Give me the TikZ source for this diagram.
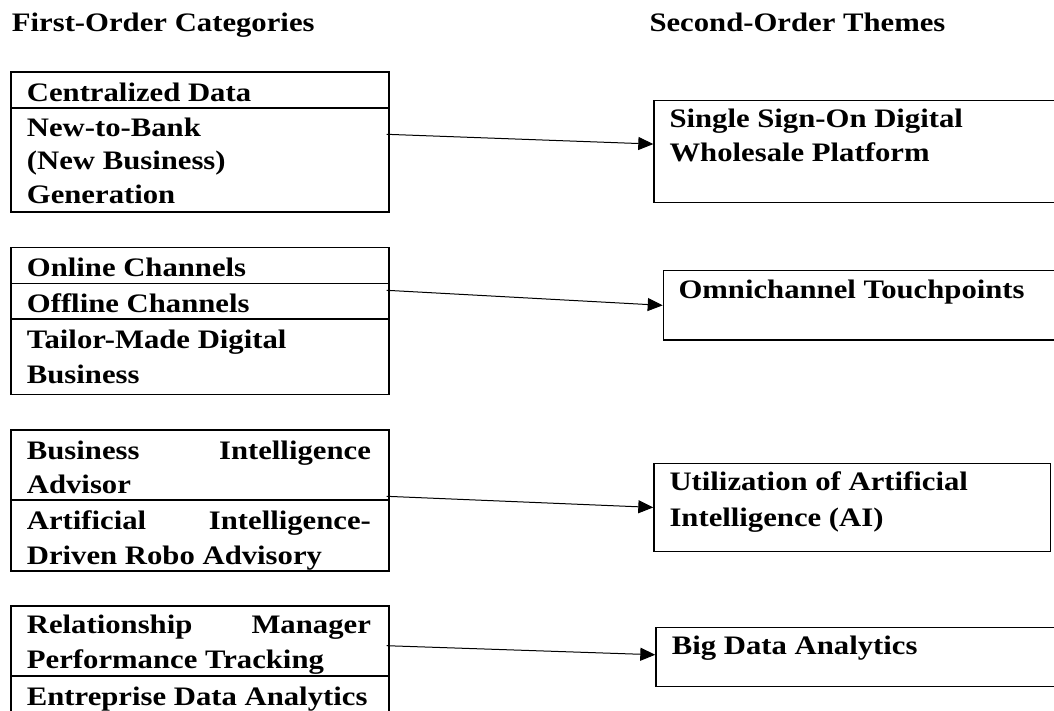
\documentclass[tikz,border=0pt]{standalone}
\usepackage{fontspec}
\setmainfont{Liberation Serif}[FakeStretch=1.15]
\usetikzlibrary{arrows.meta}
\newcommand{\bodyfnt}{\fontsize{26.7}{34.3}\selectfont\bfseries}
\begin{document}
\begin{tikzpicture}[x=1pt,y=-1pt,
  cell/.style={draw, line width=1.4pt, anchor=north west, inner sep=0pt, outer sep=0pt, minimum width=378pt},
  theme/.style={draw, line width=1.4pt, anchor=north west, inner sep=0pt},
  txt/.style={anchor=base west, inner sep=0pt, align=left, font=\bodyfnt},
  arr/.style={line width=1pt, -{Triangle[length=15pt,width=13pt]}}]
\useasboundingbox (0,0) rectangle (1054,710);
\clip (0,0) rectangle (1054,710);
% headings
\node[txt] (h1) at (11.7,31.7) {First-Order Categories};
\node[txt] (h2) at (649.3,31.7) {Second-Order Themes};
% left boxes
\node[cell, minimum height=36pt] (c1a) at (11,72) {};
\node[cell, minimum height=104pt] (c1b) at (11,108) {};
\node[cell, minimum height=36pt] (c2a) at (11,247.7) {};
\node[cell, minimum height=35.3pt] (c2b) at (11,283.7) {};
\node[cell, minimum height=75.7pt] (c2c) at (11,319) {};
\node[cell, minimum height=70pt] (c3a) at (11,430) {};
\node[cell, minimum height=71pt] (c3b) at (11,500) {};
\node[cell, minimum height=70pt] (c4a) at (11,606) {};
\node[cell, minimum height=45pt] (c4b) at (11,676) {};
% left texts (base anchor = baseline of the last line)
\node[txt] (t1a) at (26.7,101) {Centralized Data};
\node[txt, font=\fontsize{26.7}{33.65}\selectfont\bfseries] (t1b) at (26.7,203.3) {New-to-Bank\\(New Business)\\Generation};
\node[txt] (t2a) at (26.7,276.7) {Online Channels};
\node[txt] (t2b) at (26.7,312.3) {Offline Channels};
\node[txt, font=\fontsize{26.7}{35}\selectfont\bfseries] (t2c) at (26.7,383.3) {Tailor-Made Digital\\Business};
\node[txt] (t3a) at (26.7,493.3) {\makebox[344pt][s]{Business Intelligence}\\Advisor};
\node[txt, font=\fontsize{26.7}{35}\selectfont\bfseries] (t3b) at (26.7,564) {\makebox[344pt][s]{Artificial Intelligence-}\\Driven Robo Advisory};
\node[txt, font=\fontsize{26.7}{35}\selectfont\bfseries] (t4a) at (26.7,668.3) {\makebox[344pt][s]{Relationship Manager}\\Performance Tracking};
\node[txt] (t4b) at (26.7,705) {Entreprise Data Analytics};
% right boxes
\node[theme, minimum width=406.7pt, minimum height=101.7pt] (r1) at (653.3,100) {};
\node[theme, minimum width=397.3pt, minimum height=69.3pt] (r2) at (662.7,270) {};
\node[theme, minimum width=396.7pt, minimum height=88pt] (r3) at (653.3,462.7) {};
\node[theme, minimum width=404.7pt, minimum height=59.3pt] (r4) at (655.3,626.7) {};
% right texts
\node[txt] (u1) at (669.3,161.7) {Single Sign-On Digital\\Wholesale Platform};
\node[txt] (u2) at (678.3,298.3) {Omnichannel Touchpoints};
\node[txt, font=\fontsize{26.7}{35.3}\selectfont\bfseries] (u3) at (669.3,526) {Utilization of Artificial\\Intelligence (AI)};
\node[txt] (u4) at (671.7,654.3) {Big Data Analytics};
% connectors
\coordinate (s1) at (386.7,134.3);
\coordinate (s2) at (386.7,290.3);
\coordinate (s3) at (386.7,496.3);
\coordinate (s4) at (386.7,645.7);
\draw[arr] (s1) -- ([yshift=7.5pt]r1.west);
\draw[arr] (s2) -- (r2.west);
\draw[arr] (s3) -- (r3.west);
\draw[arr] (s4) -- ([yshift=2.3pt]r4.west);
\end{tikzpicture}
\end{document}
